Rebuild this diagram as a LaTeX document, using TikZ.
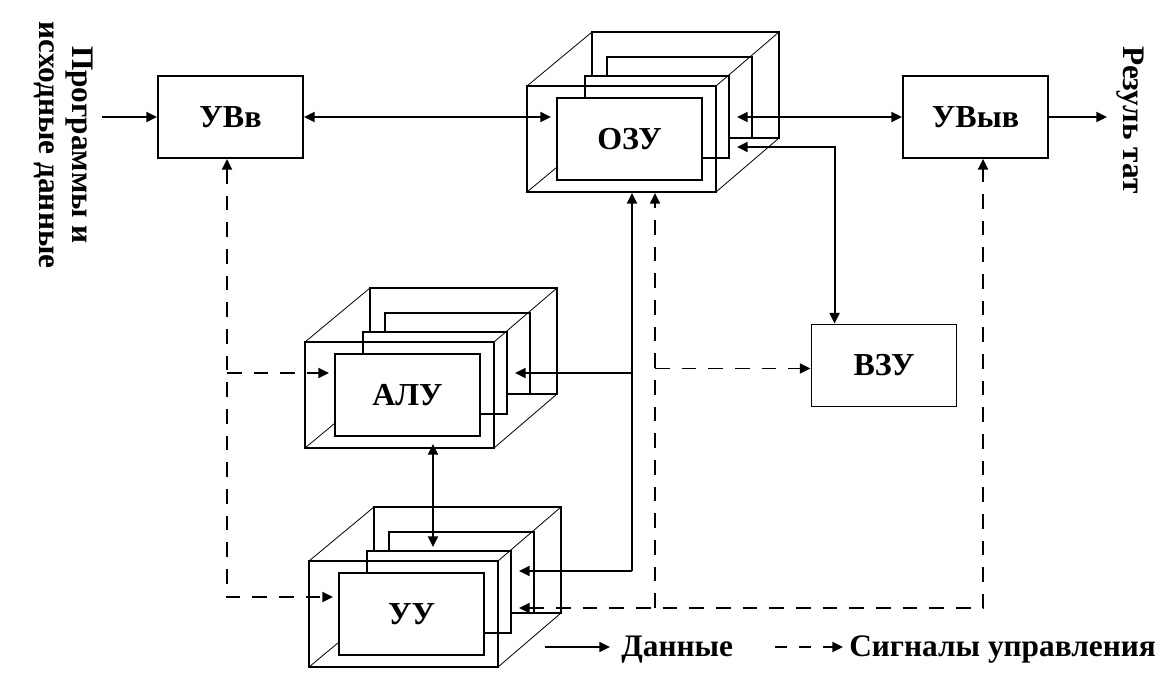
\documentclass[tikz,border=0pt]{standalone}
\usepackage{fontspec}
\setmainfont{Liberation Serif}
\usetikzlibrary{arrows.meta,calc}
\tikzset{
  >={Triangle[length=8pt,width=7.5pt]},
  line/.style={line width=1.4pt},
  ctrl/.style={line width=1.4pt, dash pattern=on 11pt off 9pt},
  diag/.style={line width=0.6pt},
  box/.style={draw, line width=1.4pt, fill=white, minimum width=108.75pt,
    minimum height=61.5pt, inner sep=0pt, font=\bfseries\fontsize{24}{28}\selectfont},
  face/.style={draw, line width=1.4pt, minimum width=141.75pt,
    minimum height=79.5pt, inner sep=0pt},
  lbl/.style={font=\bfseries\fontsize{23.5}{25}\selectfont, inner sep=0pt},
}
\newcommand\mycube[4]{%
  \begin{scope}[shift={(#2,#3)}]
    \draw[line] (65,-54) rectangle (252,52);
    \draw[diag] (0,106) -- (65,52);
    \draw[line,fill=white] (80,-29) rectangle (225,52);
    \draw[line,fill=white] (58,-10) rectangle (202,72);
    \node[box] (#1) at (102.5,53) {#4};
    \node[face] (#1F) at (94.5,53) {};
    \draw[diag] (0,0) -- (65,-54) (189,0) -- (252,-54) (189,106) -- (252,52);
  \end{scope}}
\begin{document}
\begin{tikzpicture}[x=0.75pt,y=-0.75pt]
\useasboundingbox[fill=white] (0,0) rectangle (1162,675);

% simple boxes
\node[box] (uvv) at (230.5,117) {УВв};
\node[box] (uvyv) at (975.5,117) {УВыв};
\node[box] (vzu) at (884,365.5) {ВЗУ};

% cubes
\mycube{ozu}{527}{86}{ОЗУ}
\mycube{alu}{305}{342}{АЛУ}
\mycube{uu}{309}{561}{УУ}

% texts
\node[lbl, rotate=-90, align=center] (src) at (63.5,145) {Программы и\\исходные данные};
\node[lbl, rotate=-90] (res) at (1130,120) {Резуль тат};

% coordinates
\coordinate (inA) at (102,117);
\coordinate (outA) at (1107,117);
\coordinate (ozuL) at (551,117);
\coordinate (ozuR1) at (737,117);
\coordinate (ozuR2) at (737,147);
\coordinate (aluL) at (329,373);
\coordinate (aluR) at (515,373);
\coordinate (aluB) at (433,444);
\coordinate (uuT) at (433,547);
\coordinate (uuL) at (333,597);
\coordinate (uuR1) at (519,571);
\coordinate (uuR2) at (519,608);
\coordinate (j1) at (632,571);
\coordinate (j2) at (655,608);
\coordinate (cL) at (227,597);
\coordinate (vzuT) at ($(vzu.north west)+(24,0)$);
\coordinate (vzuA) at ($(vzu.west)+(0,3)$);
\coordinate (uvyvB) at ($(uvyv.south west)+(81,0)$);

% data connectors
\draw[line,->] (inA) -- (uvv.west);
\draw[line,<->] (uvv.east) -- (ozuL);
\draw[line,<->] (ozuR1) -- (uvyv.west);
\draw[line,->] (uvyv.east) -- (outA);
\draw[line,<->] (ozuR2) -| (vzuT);
\draw[line,->] (j1) -- (ozuF.south -| j1);
\draw[line,->] (j1) -- (uuR1);
\draw[line,->] (j1 |- aluR) -- (aluR);
\draw[line,<->] (aluB) -- (uuT);

% control connectors
\draw[ctrl,->] (j2) -- (ozuF.south -| j2);
\draw[ctrl,<->] (uuR2) -| (uvyvB);
\draw[ctrl,->] (j2 |- vzuA) -- (vzuA);
\draw[ctrl,<->] (uvv.south -| cL) -- (cL) -- (uuL);
\draw[ctrl,->] (cL |- aluL) -- (aluL);

% legend
\coordinate (lg1a) at (545,647);
\coordinate (lg1b) at (610,647);
\coordinate (lg2a) at (775,647);
\coordinate (lg2b) at (843,647);
\draw[line,->] (lg1a) -- (lg1b);
\draw[line,->,dash pattern=on 9pt off 9pt] (lg2a) -- (lg2b);
\node[lbl, anchor=base west] (lgt1) at (621,656) {Данные};
\node[lbl, anchor=base west] (lgt2) at (849,656) {Сигналы управления};
\end{tikzpicture}
\end{document}
